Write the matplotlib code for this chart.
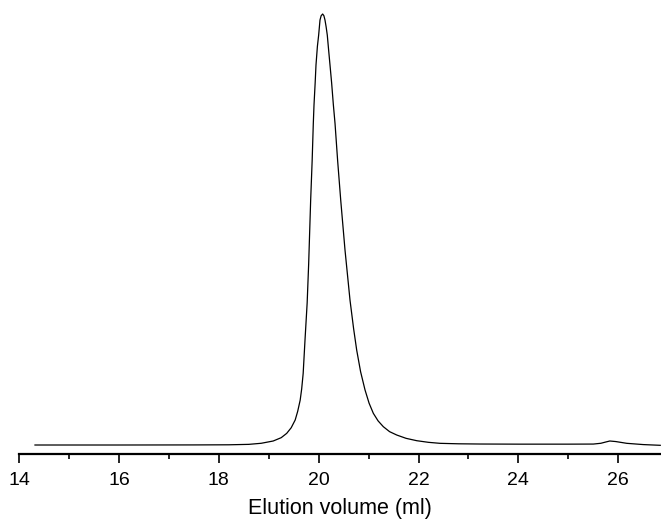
import matplotlib
matplotlib.use("Agg")
import matplotlib.pyplot as plt

plt.rcParams['font.family'] = ['Liberation Sans', 'DejaVu Sans']

# elution volume (ml) and relative absorbance
volume = [14.32, 16.0, 17.5, 18.2, 18.6, 18.85, 19.09, 19.25, 19.36, 19.45,
          19.53, 19.58, 19.63, 19.66, 19.69, 19.727, 19.77, 19.80, 19.84, 19.87,
          19.893, 19.907, 19.93, 19.947, 19.975, 20.0, 20.027, 20.05, 20.08, 20.105,
          20.127, 20.15, 20.173, 20.2, 20.227, 20.26, 20.294, 20.328, 20.38, 20.442,
          20.528, 20.628, 20.70, 20.762, 20.84, 20.928, 21.01, 21.095, 21.19, 21.295,
          21.42, 21.563, 21.75, 21.964, 22.2, 22.43, 22.8, 23.23, 24.0, 25.0,
          25.5, 25.65, 25.75, 25.83, 25.95, 26.17, 26.5, 26.84]
absorbance = [0.0, 0.0, 0.02, 0.05, 0.15, 0.4, 0.93, 1.7, 2.7, 4.0,
              5.8, 7.8, 10.4, 13.0, 16.6, 24.4, 33.0, 42.0, 56.8, 66.0,
              74.6, 78.9, 84.0, 88.2, 92.5, 95.1, 98.6, 99.6, 100.0, 99.6,
              98.6, 97.0, 95.1, 91.6, 88.2, 84.0, 79.0, 74.6, 66.0, 56.8,
              45.2, 33.6, 27.0, 22.0, 17.0, 12.8, 9.7, 7.35, 5.6, 4.25,
              3.1, 2.32, 1.55, 1.0, 0.62, 0.39, 0.28, 0.23, 0.2, 0.2,
              0.22, 0.4, 0.7, 0.93, 0.8, 0.39, 0.1, -0.07]

major_ticks = [14, 16, 18, 20, 22, 24, 26]
minor_ticks = [15, 17, 19, 21, 23, 25]

fig = plt.figure(figsize=(6.61, 5.19), dpi=100)
ax = fig.add_axes([19/661, (519-453.5)/519, 1-19/661, 453.5/519])
ax.plot(volume, absorbance, color='black', lw=0.9)

ax.set_xlim(14, 26.855)
ax.set_ylim(-1.97, 103.25)

for s in ['left', 'top', 'right']:
    ax.spines[s].set_visible(False)
ax.spines['bottom'].set_linewidth(1.6)
ax.set_yticks([])

ax.set_xticks(major_ticks)
ax.set_xticklabels([str(t) for t in major_ticks])
ax.set_xticks(minor_ticks, minor=True)
ax.tick_params(axis='x', which='major', length=6.7, width=1.2, labelsize=14, pad=6.5)
ax.tick_params(axis='x', which='minor', length=3.8, width=1.2)
ax.set_xlabel('Elution volume (ml)', fontsize=15.5, labelpad=6.5)

fig.savefig('out.png', dpi=100)
